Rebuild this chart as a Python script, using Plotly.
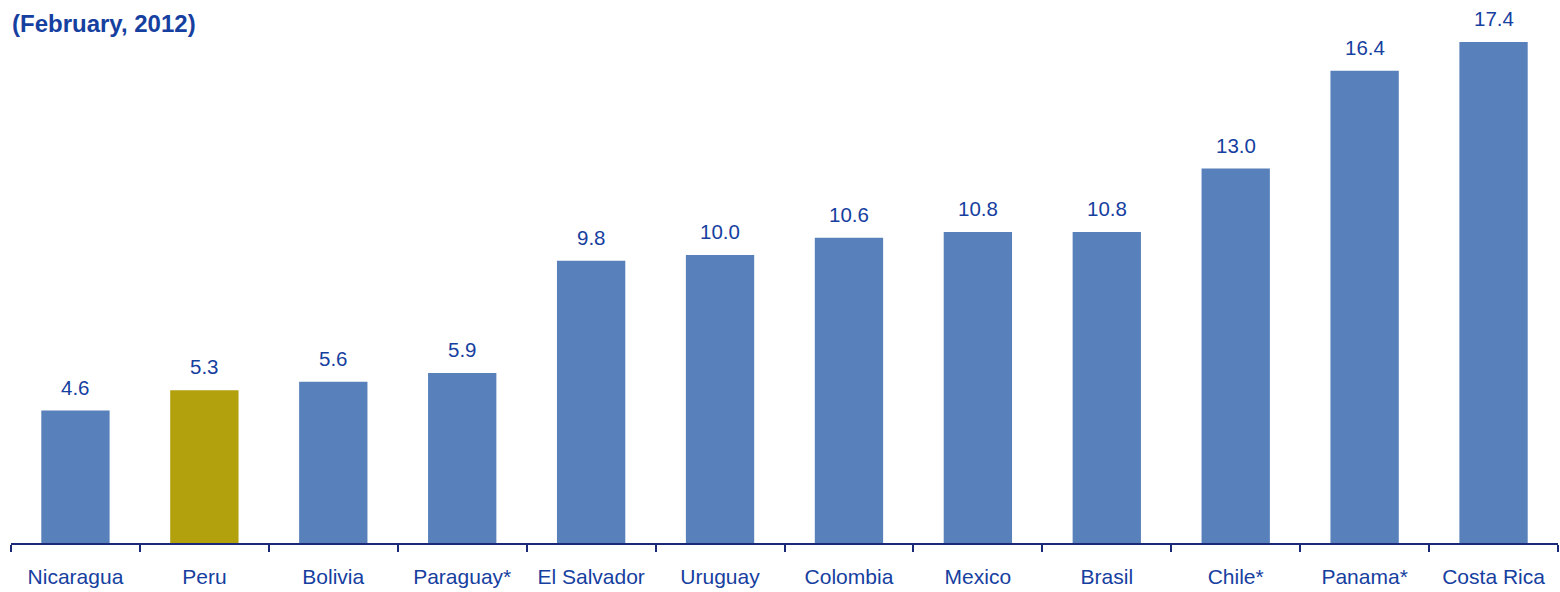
import plotly.graph_objects as go

countries = ["Nicaragua", "Peru", "Bolivia", "Paraguay*", "El Salvador", "Uruguay",
             "Colombia", "Mexico", "Brasil", "Chile*", "Panama*", "Costa Rica"]
values = [4.6, 5.3, 5.6, 5.9, 9.8, 10.0, 10.6, 10.8, 10.8, 13.0, 16.4, 17.4]
highlight = "Peru"

BLUE = "#5880BA"
GOLD = "#B2A00C"
TEXT = "#1640A0"
AXIS = "#1A2A78"

colors = [GOLD if c == highlight else BLUE for c in countries]

fig = go.Figure(go.Bar(x=countries, y=values, marker=dict(color=colors, line=dict(width=0)),
                       hoverinfo="skip"))

for c, v in zip(countries, values):
    fig.add_annotation(x=c, y=v, text=f"{v:.1f}", showarrow=False, yanchor="bottom",
                       yshift=10, font=dict(family="Liberation Sans, Arial", size=20.5, color=TEXT))

fig.update_layout(
    width=1560, height=592,
    margin=dict(l=11, r=2, t=20, b=49),
    paper_bgcolor="white", plot_bgcolor="white",
    bargap=0.47,
    showlegend=False,
    title=dict(text="<b>(February, 2012)</b>", x=12/1560, xanchor="left", xref="container",
               y=1 - 24/592, yanchor="middle", yref="container",
               font=dict(family="Liberation Sans, Arial", size=24, color=TEXT)),
    xaxis=dict(showline=True, linecolor=AXIS, linewidth=2, ticks="outside", tickson="boundaries",
               ticklen=7, tickwidth=2, tickcolor=AXIS, showgrid=False, ticklabelstandoff=14,
               tickfont=dict(family="Liberation Sans, Arial", size=21, color=TEXT)),
    yaxis=dict(visible=False, range=[0, 18.16], showgrid=False, zeroline=False),
)

fig.write_html("out.html")
